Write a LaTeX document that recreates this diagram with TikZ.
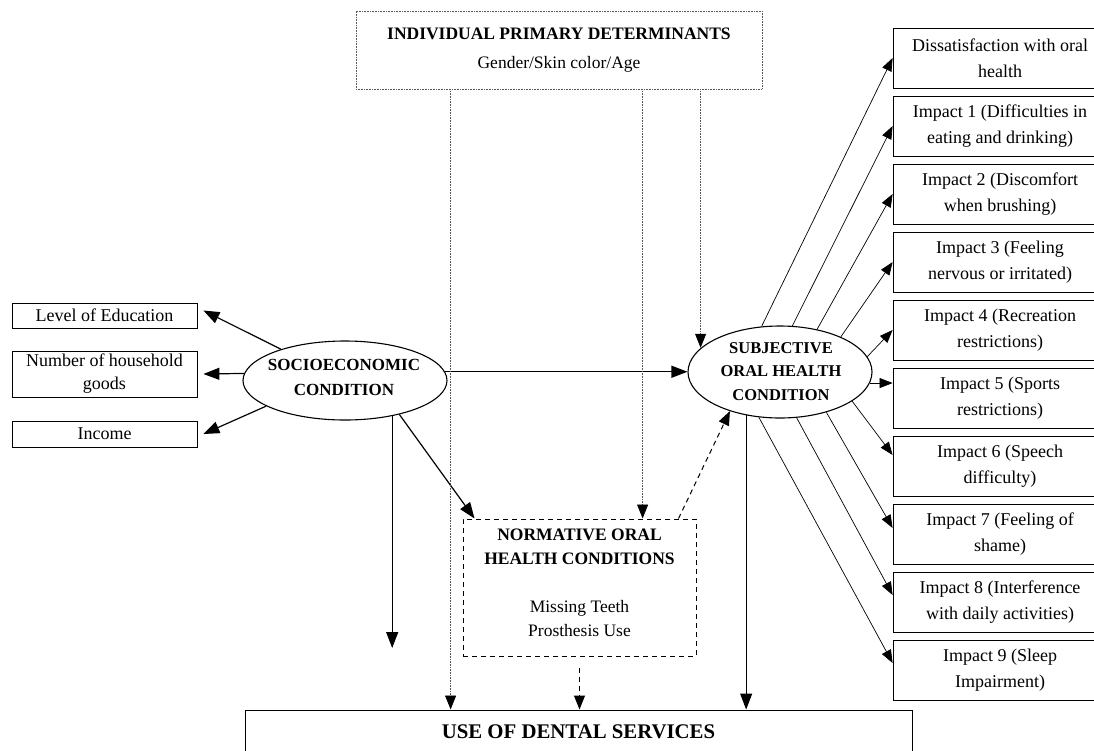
\documentclass[tikz,border=0pt]{standalone}
\usepackage{fontspec}
\setmainfont{Liberation Serif}
\usetikzlibrary{arrows.meta,shapes.geometric,calc}
\begin{document}
\begin{tikzpicture}[x=1pt,y=-1pt,
  btxt/.style={font=\fontsize{17}{24.5}\selectfont\bfseries,align=center,inner sep=0pt},
  lbox/.style={draw,line width=0.8pt,inner sep=0pt,minimum width=185pt,align=center,font=\fontsize{18}{23}\selectfont},
  rbox/.style={draw,line width=0.8pt,inner sep=0pt,minimum width=214pt,minimum height=60pt,align=center,font=\fontsize{18}{26}\selectfont},
  ell/.style={draw,ellipse,line width=1.1pt,inner sep=0pt},
  arr/.style={line width=1.2pt,-{Triangle[length=16pt,width=12pt]}},
  tarr/.style={line width=0.7pt,-{Triangle[length=13pt,width=10pt]}},
  dotl/.style={line width=0.8pt,black!65,dash pattern=on 0.8pt off 0.8pt},
  dotarr/.style={dotl,-{Triangle[length=14pt,width=11pt,color=black]}},
  dasharr/.style={line width=1pt,dash pattern=on 5pt off 4pt,-{Triangle[length=14pt,width=11pt]}}
]
\useasboundingbox (0,0) rectangle (1094,750);

% top box
\node[draw,dotl,minimum width=406pt,minimum height=78pt,inner sep=0pt] (top) at (559,50) {};
\node[align=center,inner sep=0pt,font=\fontsize{17.5}{29.5}\selectfont] (topt) at (559,50)
  {\textbf{INDIVIDUAL PRIMARY DETERMINANTS}\\Gender/Skin color/Age};

% left boxes
\node[lbox,minimum height=25pt] (edu) at (104.5,315.5) {Level of Education};
\node[lbox,minimum height=46pt] (hh) at (104.5,374) {Number of household\\goods};
\node[lbox,minimum height=26pt] (inc) at (104.5,434) {Income};

% ellipses
\node[ell,minimum width=204pt,minimum height=79pt] (socio) at (345,380.5) {};
\node[btxt] (sociot) at (344,377.5) {SOCIOECONOMIC\\CONDITION};
\node[ell,minimum width=184pt,minimum height=92pt] (subj) at (780,372) {};
\node[btxt,font=\fontsize{16.5}{23.5}\selectfont\bfseries] (subjt) at (781,371.5) {SUBJECTIVE\\ORAL HEALTH\\CONDITION};

% normative box
\node[draw,line width=1pt,dash pattern=on 5pt off 4pt,minimum width=233pt,minimum height=137pt,inner sep=0pt] (norm) at (579.5,587.5) {};
\node[align=center,inner sep=0pt,font=\fontsize{17.5}{23.5}\selectfont] (normt) at (579.5,583)
  {\textbf{NORMATIVE ORAL}\\\textbf{HEALTH CONDITIONS}\\[25pt]Missing Teeth\\Prosthesis Use};

% bottom box
\node[draw,line width=1pt,minimum width=667pt,minimum height=44pt,inner sep=0pt,
  font=\fontsize{20.8}{24}\selectfont\bfseries] (use) at (578.5,732) {USE OF DENTAL SERVICES};

% right boxes
\node[rbox] (r0) at (1000,58)  {Dissatisfaction with oral\\health};
\node[rbox] (r1) at (1000,126) {Impact 1 (Difficulties in\\eating and drinking)};
\node[rbox] (r2) at (1000,194) {Impact 2 (Discomfort\\when brushing)};
\node[rbox] (r3) at (1000,262) {Impact 3 (Feeling\\nervous or irritated)};
\node[rbox] (r4) at (1000,330) {Impact 4 (Recreation\\restrictions)};
\node[rbox] (r5) at (1000,398) {Impact 5 (Sports\\restrictions)};
\node[rbox] (r6) at (1000,466) {Impact 6 (Speech\\difficulty)};
\node[rbox] (r7) at (1000,534) {Impact 7 (Feeling of\\shame)};
\node[rbox] (r8) at (1000,602) {Impact 8 (Interference\\with daily activities)};
\node[rbox] (r9) at (1000,670) {Impact 9 (Sleep\\Impairment)};

% socioeconomic arrows
\draw[arr] (socio.154) -- ([xshift=6pt,yshift=5pt]edu.east);
\draw[arr] (socio.176) -- ([xshift=6pt]hh.east);
\draw[arr] (socio.198) -- ([xshift=6pt]inc.east);
\draw[arr] (socio.5) -- (socio.5 -| subj.west);
\coordinate (sEnd) at (392,648);
\draw[arr] (socio.-37) -- (socio.-37 |- sEnd);
\draw[arr] (socio.-32) -- ([xshift=12pt]norm.north west);

% dotted arrows from primary determinants
\coordinate (d1) at ($(top.south west)+(95,0)$);
\coordinate (d2) at ($(top.south west)+(287,0)$);
\coordinate (d3) at ($(top.south west)+(345,0)$);
\draw[dotarr] (d1) -- (d1 |- use.north);
\draw[dotarr] (d2) -- (d2 |- norm.north);
\draw[dotarr] (d3) -- (d3 |- subj.163);

% dashed arrows
\draw[dasharr] ([xshift=-18pt]norm.north east) -- (subj.-142);
\draw[dasharr] ([yshift=-11pt]norm.south) -- (norm.south |- use.north);

% subjective to use
\draw[arr,line width=1pt] (subj.-128) -- (subj.-128 |- use.north);

% subjective to impacts
\draw[tarr] (subj.112) -- (r0.west);
\draw[tarr] (subj.75) -- (r1.west);
\draw[tarr] (subj.49) -- (r2.west);
\draw[tarr] (subj.30) -- (r3.west);
\draw[tarr] (subj.10) -- (r4.west);
\draw[tarr] (subj.-7) -- (subj.-7 -| r5.west);
\draw[tarr] (subj.-22) -- ([yshift=11pt]r6.west);
\draw[tarr] (subj.-41) -- ([yshift=6pt]r7.west);
\draw[tarr] (subj.-70) -- ([yshift=7pt]r8.west);
\draw[tarr] (subj.-115) -- ([yshift=7pt]r9.west);
\end{tikzpicture}
\end{document}
